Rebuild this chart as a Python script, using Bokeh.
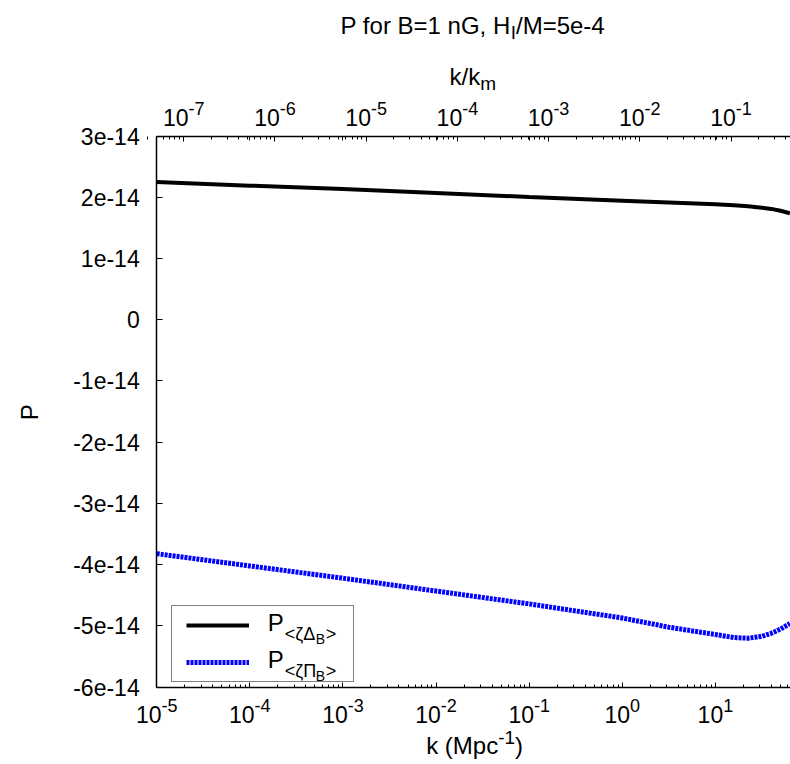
import math
from bokeh.plotting import figure
from bokeh.models import (Range1d, LogScale, LogAxis, FixedTicker, CustomJSTickFormatter,
                          Label, Legend, LegendItem)
from bokeh.embed import file_html
from bokeh.resources import INLINE

# ---------------- data ----------------
k_values = [1e-5, 1e-4, 1e-3, 1e-2, 1e-1, 1.0, 3.16, 10.0, 15.8, 22.4, 31.6, 39.8, 50.1, 63.1]
P_zeta_Delta = [2.25e-14, 2.19e-14, 2.135e-14, 2.07e-14, 2.005e-14, 1.945e-14, 1.915e-14,
                1.885e-14, 1.87e-14, 1.855e-14, 1.83e-14, 1.81e-14, 1.78e-14, 1.74e-14]
P_zeta_Pi = [-3.82e-14, -4.02e-14, -4.22e-14, -4.43e-14, -4.64e-14, -4.87e-14, -5.02e-14,
             -5.14e-14, -5.19e-14, -5.20e-14, -5.17e-14, -5.12e-14, -5.05e-14, -4.96e-14]

bottom_ticks = [1e-5, 1e-4, 1e-3, 1e-2, 1e-1, 1.0, 10.0]
top_ticks = [1e-7, 1e-6, 1e-5, 1e-4, 1e-3, 1e-2, 1e-1]
y_ticks = [-6e-14, -5e-14, -4e-14, -3e-14, -2e-14, -1e-14, 0.0, 1e-14, 2e-14, 3e-14]
y_tick_labels = ["-6e-14", "-5e-14", "-4e-14", "-3e-14", "-2e-14", "-1e-14", "0",
                 "1e-14", "2e-14", "3e-14"]

title_parts = ["P for B=1 nG, H", "I", "/M=5e-4"]
top_label_parts = ["k/k", "m"]
bottom_label_parts = ["k (Mpc", "-1", ")"]
y_label = "P"
legend_parts = [["P", "<ζΔ", "B", ">"], ["P", "<ζΠ", "B", ">"]]

# ---------------- geometry of the plotting box (page pixels) ----------------
BOX_L, BOX_R, BOX_T, BOX_B = 157, 790, 137, 686
FR_L, FR_T, FR_B = 1, 2, 763          # approximate extent of Bokeh's frame
DEC_BOTTOM, DEC_TOP, PX_PER_UNIT = 93.0, 91.1, 61.0
TOP_REF_PX = 184                       # page x of k/k_m = 1e-7

XMIN, XMAX = 1e-5, 10 ** (-5 + (BOX_R - BOX_L) / DEC_BOTTOM)
TMIN = 10 ** (-7 - (TOP_REF_PX - BOX_L) / DEC_TOP)
TMAX = 10 ** (-7 + (BOX_R - TOP_REF_PX) / DEC_TOP)
YMIN, YMAX = -6e-14, 3e-14

XLO = 10 ** (-5 - (BOX_L - FR_L) / DEC_BOTTOM)
TLO = 10 ** (-7 - (TOP_REF_PX - FR_L) / DEC_TOP)
YLO = YMIN - (FR_B - BOX_B) / PX_PER_UNIT * 1e-14
YHI = YMAX + (BOX_T - FR_T) / PX_PER_UNIT * 1e-14

FONT = "Liberation Sans"

p = figure(width=790, height=764, x_axis_type="log",
           x_range=Range1d(XLO, XMAX), y_range=Range1d(YLO, YHI),
           output_backend="svg", toolbar_location=None, min_border=0)
p.outline_line_color = None
p.xgrid.visible = False
p.ygrid.visible = False
p.background_fill_color = "white"
p.border_fill_color = "white"

def minor_for(ticks):
    return [t * m for t in ticks for m in range(2, 10)]

def style_axis(ax, tick_in, minor_in):
    ax.formatter = CustomJSTickFormatter(code="return '';")
    ax.major_label_text_font_size = "1px"
    ax.major_label_standoff = 0
    ax.axis_line_width = 1.5
    ax.axis_line_color = "black"
    ax.major_tick_in = tick_in
    ax.major_tick_out = 0
    ax.minor_tick_in = minor_in
    ax.minor_tick_out = 0
    ax.major_tick_line_color = "black"
    ax.minor_tick_line_color = "black"

# bottom axis
xa = p.xaxis[0]
xa.ticker = FixedTicker(ticks=bottom_ticks, minor_ticks=minor_for(bottom_ticks))
style_axis(xa, 5, 3)
xa.fixed_location = YMIN
xa.bounds = (XMIN, XMAX)

# top axis (k/k_m)
p.extra_x_ranges = {"top": Range1d(TLO, TMAX)}
p.extra_x_scales = {"top": LogScale()}
ta = LogAxis(x_range_name="top",
             ticker=FixedTicker(ticks=top_ticks, minor_ticks=minor_for([1e-8] + top_ticks)))
style_axis(ta, 5, 3)
ta.fixed_location = YMAX
ta.bounds = (TMIN, TMAX)
p.add_layout(ta, "above")

# mirrored bottom ticks on the top edge
ma = LogAxis(ticker=FixedTicker(ticks=bottom_ticks, minor_ticks=[]))
style_axis(ma, 4, 0)
ma.axis_line_color = None
ma.minor_tick_line_color = None
ma.fixed_location = YMAX
ma.bounds = (XMIN, XMAX)
p.add_layout(ma, "above")

# left axis
ya = p.yaxis[0]
ya.ticker = FixedTicker(ticks=y_ticks, minor_ticks=[])
style_axis(ya, 6, 0)
ya.minor_tick_line_color = None
ya.fixed_location = XMIN
ya.bounds = (YMIN, YMAX)

# ---------------- curves ----------------
r1 = p.line(k_values, P_zeta_Delta, line_color="black", line_width=4)
r2 = p.line(k_values, P_zeta_Pi, line_color="#0000ff", line_width=5, line_dash="3 1")

legend = Legend(items=[LegendItem(label=" ", renderers=[r1]),
                       LegendItem(label=" ", renderers=[r2])],
                location=(172 - FR_L, FR_B - 681), padding=14, spacing=27,
                glyph_width=63, glyph_height=10,
                label_width=85, label_height=10, label_standoff=5, label_text_font_size="6px",
                border_line_color="black", border_line_width=1.5,
                background_fill_color="white", background_fill_alpha=0.0, margin=0)
p.add_layout(legend)

# ---------------- texts ----------------
MID = 0.35   # distance from the baseline to the text middle, in em

def txt(s, px, base_py, size, align="left"):
    p.add_layout(Label(x=XMIN, y=YMIN, x_offset=px - BOX_L,
                       y_offset=BOX_B - (base_py - MID * size),
                       text=s, text_font=FONT, text_font_size=f"{size}px",
                       text_align=align, text_baseline="middle", text_color="black",
                       level="overlay"))

def tick_label(t, base_y, rng, F=23, f=18):
    e = str(int(round(math.log10(t))))
    w10 = 1.112 * F
    we = sum(0.333 if c == "-" else 0.556 for c in e) * f
    W = w10 + we
    kw = dict(x=t, y=YMIN, text_font=FONT, text_align="left", text_baseline="middle",
              text_color="black", x_range_name=rng, level="overlay")
    p.add_layout(Label(x_offset=-W / 2, y_offset=BOX_B - (base_y - MID * F), text="10",
                       text_font_size=f"{F}px", **kw))
    p.add_layout(Label(x_offset=-W / 2 + w10, y_offset=BOX_B - (base_y - 10 - MID * f),
                       text=e, text_font_size=f"{f}px", **kw))

for t in bottom_ticks:
    tick_label(t, 721, "default")
for t in top_ticks:
    tick_label(t, 124, "top")

for v, lab in zip(y_ticks, y_tick_labels):
    p.add_layout(Label(x=XMIN, y=v, x_offset=-17, text=lab, text_font=FONT,
                       text_font_size="23px", text_align="right", text_baseline="middle",
                       text_color="black", level="overlay"))

# y axis label
p.add_layout(Label(x=XMIN, y=YMIN, x_offset=30 - BOX_L, y_offset=BOX_B - 411, text=y_label,
                   text_font=FONT, text_font_size="24px", text_align="center",
                   text_baseline="middle", angle=math.pi / 2, text_color="black",
                   level="overlay"))
# title
txt(title_parts[0], 511, 33, 24, "right")
txt(title_parts[1], 511, 38, 19)
txt(title_parts[2], 516.3, 33, 24)
# top axis label
txt(top_label_parts[0], 480.5, 84, 24, "right")
txt(top_label_parts[1], 480.5, 89, 19)
# bottom axis label
txt(bottom_label_parts[0], 498.5, 753, 24, "right")
txt(bottom_label_parts[1], 498.5, 743, 19)
txt(bottom_label_parts[2], 515.4, 753, 24)

# legend texts
for (pp, sub, subsub, close), base in zip(legend_parts, [630, 667]):
    txt(pp, 268, base, 24)
    txt(sub, 285, base + 9, 18)
    txt(subsub, 316, base + 13, 14)
    txt(close, 326, base + 9, 18)

open("out.html", "w").write(file_html(p, INLINE))
